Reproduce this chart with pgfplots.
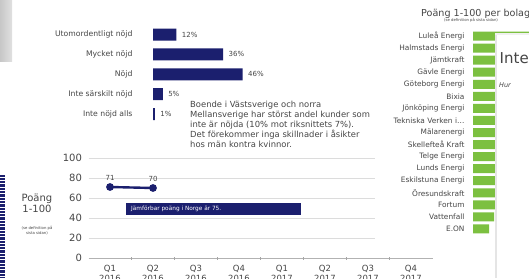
\documentclass[border=0pt]{standalone}
\usepackage{pgfplots}
\pgfplotsset{compat=1.18}
\usepackage{fontspec}
\setmainfont{DejaVu Sans}
\definecolor{navy}{RGB}{27,31,110}
\definecolor{grn}{RGB}{124,192,64}
\definecolor{txt}{RGB}{70,70,70}
\definecolor{gridc}{RGB}{220,220,220}
\pgfplotsset{every axis/.append style={/pgf/number format/assume math mode=true}}
\begin{document}
\begin{tikzpicture}[x=1pt,y=1pt]
\useasboundingbox (0,0) rectangle (529,278);
\clip (0,0) rectangle (529,278);
\fill[white] (0,0) rectangle (529,278);
% left decorations
\shade[left color=black!22, right color=black!12] (0,216) rectangle (12,278);
\fill[navy] (0,0) rectangle (4.5,103);
\foreach \k in {0,...,31} \fill[white] (0,\k*3.3+1.2) rectangle (4.5,\k*3.3+2.1);

% ---------- top horizontal bar chart ----------
\begin{axis}[
  at={(153pt,154pt)}, anchor=south west,
  scale only axis, width=97.5pt, height=99.4pt,
  xmin=0, xmax=50, ymin=-0.5, ymax=4.5, y dir=reverse,
  axis line style={draw=none},
  xtick=\empty, ytick={0,...,4},
  yticklabels={Utomordentligt nöjd, Mycket nöjd, Nöjd, Inte särskilt nöjd, Inte nöjd alls},
  major tick length=0pt,
  yticklabel style={font=\fontsize{7.7}{9}\selectfont, text=txt, xshift=-17pt},
  xbar, bar width=12pt, bar shift=0pt,
  point meta=x,
  nodes near coords={\pgfmathprintnumber{\pgfplotspointmeta}\%},
  nodes near coords style={font=\fontsize{7}{8}\selectfont, text=txt, anchor=west, xshift=2pt},
  clip=false,
]
\addplot[fill=navy, draw=none] coordinates {(12,0) (36,1) (46,2) (5,3) (1,4)};
\end{axis}

\node[anchor=north west, align=left, text=txt, font=\fontsize{8.4}{10}\selectfont, inner sep=0pt]
  at (190,177) {Boende i Västsverige och norra\\Mellansverige har störst andel kunder som\\inte är nöjda (10\% mot riksnittets 7\%).\\Det förekommer inga skillnader i åsikter\\hos män kontra kvinnor.};

% ---------- line chart ----------
\begin{axis}[
  at={(88.5pt,20pt)}, anchor=south west,
  scale only axis, width=344pt, height=100pt,
  xmin=-0.5, xmax=7.5, ymin=0, ymax=100,
  axis x line*=bottom, axis y line*=left,
  y axis line style={draw=none},
  x axis line style={draw=black!30, line width=0.8pt},
  ytick={0,20,...,100}, ytick style={draw=none},
  yticklabel style={font=\fontsize{10}{12}\selectfont, text=txt, xshift=-3pt},
  xtick={0,...,7}, xtick style={draw=none},
  xticklabels={{Q1\\2016},{Q2\\2016},{Q3\\2016},{Q4\\2016},{Q1\\2017},{Q2\\2017},{Q3\\2017},{Q4\\2017}},
  xticklabel style={align=center, font=\fontsize{8.5}{9.5}\selectfont, text=txt, yshift=-4pt},
  extra x ticks={0.5,1.5,...,6.5}, extra x tick labels={},
  extra x tick style={major tick length=3pt, tick align=center, xtick style={draw=black!35, line width=0.6pt}},
  clip=false,
]
\pgfplotsinvokeforeach{20,40,60,80,100}{
  \draw[gridc, line width=0.8pt] (axis cs:-0.5,#1) -- (axis cs:6.16,#1);
}
\addplot[navy, line width=2.4pt, mark=*, mark size=2.6pt,
  nodes near coords, point meta=y,
  nodes near coords style={font=\fontsize{7}{8}\selectfont, text=txt, anchor=south, yshift=2pt}]
  coordinates {(0,71) (1,70)};
\end{axis}

\fill[navy] (126,63) rectangle (301,75);
\node[anchor=west, text=white, font=\fontsize{5.8}{7}\selectfont, inner sep=0pt] at (131,69) {Jämförbar poäng i Norge är 75.};

\node[align=center, text=txt, font=\fontsize{10}{11}\selectfont] at (37,75) {Poäng\\1-100};
\node[align=center, text=txt, font=\fontsize{3.8}{4.6}\selectfont] at (37,47.5) {(se definition på\\sista sidan)};

% ---------- right green chart ----------
\node[anchor=west, text=txt, font=\fontsize{9.6}{10}\selectfont, inner sep=0pt] at (421,264) {Poäng 1-100 per bolag};
\node[text=txt, font=\fontsize{3.8}{4}\selectfont, inner sep=0pt] at (471,257.5) {(se definition på sista sidan)};
\begin{axis}[
  at={(473pt,43pt)}, anchor=south west,
  scale only axis, width=60pt, height=205pt,
  xmin=50, xmax=80, ymin=-0.5, ymax=16.5, y dir=reverse,
  axis line style={draw=none},
  xtick=\empty, ytick={0,...,16},
  yticklabels={Luleå Energi, Halmstads Energi, Jämtkraft, Gävle Energi, Göteborg Energi, Bixia, Jönköping Energi, Tekniska Verken i…, Mälarenergi, Skellefteå Kraft, Telge Energi, Lunds Energi, Eskilstuna Energi, Öresundskraft, Fortum, Vattenfall, E.ON},
  major tick length=0pt,
  yticklabel style={font=\fontsize{7.4}{8}\selectfont, text=txt, xshift=-5pt},
  xbar, bar width=9pt, bar shift=0pt,
]
\addplot[fill=grn, draw=none] coordinates {(78,0) (77,1) (77,2) (76,3) (76,4) (75,5) (75,6) (75,7) (74,8) (74,9) (74,10) (73,11) (73,12) (72,13) (61,14) (60.5,15) (58,16)};
\end{axis}

% ---------- overlaid card ----------
\fill[black!10] (494.5,0) rectangle (497,244);
\fill[black!6] (494.5,243) rectangle (529,245);
\fill[white] (497,0) rectangle (529,243);
\node[anchor=west, text=txt, font=\fontsize{15}{16}\selectfont, inner sep=0pt] at (499.5,220) {Inte};
\node[anchor=west, text=txt, font=\itshape\fontsize{6.5}{7}\selectfont, inner sep=0pt] at (499,193) {Hur};
\end{tikzpicture}
\end{document}
